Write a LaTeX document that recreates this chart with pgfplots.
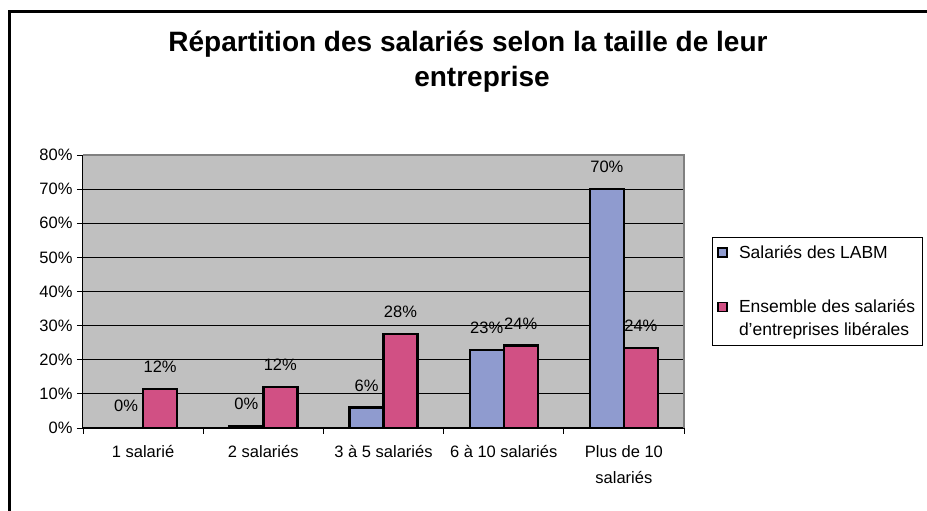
\documentclass[border=0pt]{standalone}
\usepackage{fontspec}
\setmainfont{Liberation Sans}
\usepackage{pgfplots}
\pgfplotsset{compat=1.18}
\definecolor{plotbg}{RGB}{192,192,192}
\definecolor{barblue}{RGB}{143,155,207}
\definecolor{barpink}{RGB}{209,80,132}
\definecolor{bordergray}{RGB}{128,128,128}
\newcommand{\sm}{\fontsize{16.5}{23}\selectfont}
\pgfplotsset{
  legA/.style={legend image code/.code={\draw[##1,line width=1.6pt] (0pt,-4.5pt) rectangle (9pt,4.5pt);}},
  legB/.style={legend image code/.code={\draw[##1,line width=1.6pt] (0pt,7pt) rectangle (9pt,16pt);}},
}
\begin{document}
\begin{tikzpicture}
\path[use as bounding box] (0pt,0pt) rectangle (927pt,511pt);
\draw[line width=3pt] (9.5pt,-2pt) -- (9.5pt,499pt) -- (930pt,499pt);
\node[anchor=base, font=\bfseries\fontsize{28}{32}\selectfont] at (468pt,459pt) {Répartition des salariés selon la taille de leur};
\node[anchor=base, font=\bfseries\fontsize{28}{32}\selectfont] at (482pt,424pt) {entreprise};
\begin{axis}[
  at={(83pt,83pt)}, anchor=south west, scale only axis,
  width=601pt, height=273pt,
  xmin=-0.5, xmax=4.5, ymin=0, ymax=80,
  clip=false,
  ybar=0pt, bar width=34pt,
  axis background/.style={fill=plotbg},
  axis lines=left, axis line style={-, line width=1pt, black},
  ytick={0,10,...,80},
  yticklabels={0\%,10\%,20\%,30\%,40\%,50\%,60\%,70\%,80\%},
  yticklabel style={font=\sm, xshift=-1pt},
  ymajorgrids, grid style={black, line width=0.8pt},
  xtick={-0.5,0.5,1.5,2.5,3.5,4.5},
  xticklabels={},
  extra x ticks={0,1,2,3,4},
  extra x tick labels={1 salarié, 2 salariés, 3 à 5 salariés, 6 à 10 salariés, {Plus de 10\\salariés}},
  extra x tick style={major tick length=0pt, grid=none},
  xticklabel style={align=center, font=\fontsize{16.5}{26}\selectfont, yshift=-14pt},
  tick align=outside, major tick length=6pt,
  tick style={black, line width=0.8pt},
  nodes near coords, point meta=explicit symbolic,
  every node near coord/.append style={font=\sm, anchor=center, yshift=22pt, black},
  legend style={at={(1.0466,0.6996)}, anchor=north west, draw=black, line width=0.8pt,
    fill=white, font=\fontsize{17.5}{23}\selectfont, cells={anchor=west, align=left},
    row sep=36pt, inner xsep=5pt, inner ysep=6pt,
    /tikz/every odd column/.append style={column sep=9pt}},
  after end axis/.code={\draw[bordergray, line width=1.5pt] (rel axis cs:0,1) -- (rel axis cs:1,1) -- (rel axis cs:1,0);},
]
\addplot[fill=barblue, draw=black, line width=2.4pt, legA]
  coordinates {(0,0) [0\%] (1,0.5) [0\%] (2,6) [6\%] (3,22.8) [23\%] (4,70) [70\%]};
\addlegendentry{Salariés des LABM}
\addplot[fill=barpink, draw=black, line width=2.4pt, legB]
  coordinates {(0,11.5) [12\%] (1,12) [12\%] (2,27.6) [28\%] (3,24.2) [24\%] (4,23.5) [24\%]};
\addlegendentry{Ensemble des salariés\\d'entreprises libérales}
\end{axis}
\end{tikzpicture}
\end{document}
